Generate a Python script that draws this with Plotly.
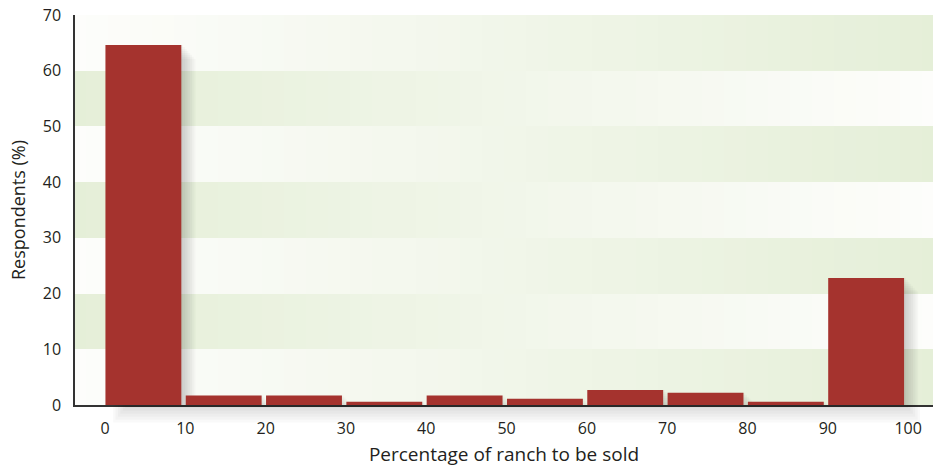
import plotly.graph_objects as go
import numpy as np

# Data
bin_starts = [0, 10, 20, 30, 40, 50, 60, 70, 80, 90]
respondents = [64.6, 1.7, 1.7, 0.6, 1.7, 1.1, 2.7, 2.2, 0.6, 22.8]
x_ticks = [0, 10, 20, 30, 40, 50, 60, 70, 80, 90, 100]
y_ticks = [0, 10, 20, 30, 40, 50, 60, 70]

X_RANGE = [-3.74, 103.1]
Y_RANGE = [0, 70]
BAR_COLOR = "#a5332e"
FONT = "Open Sans"

fig = go.Figure()

# Background gradient bands (decoration)
ncol = 40
xs = np.linspace(X_RANGE[0], X_RANGE[1], ncol)
band_centers = [5, 15, 25, 35, 45, 55, 65]
z = []
for i, _ in enumerate(band_centers):
    t = np.linspace(0, 1, ncol)
    z.append(list(t if i % 2 == 0 else 1 - t))
fig.add_trace(go.Heatmap(
    x=xs, y=band_centers, z=z,
    colorscale=[[0, "#fdfdfb"], [1, "#e5efd8"]],
    zmin=0, zmax=1, showscale=False, hoverinfo="skip",
))

# Bar shadows (soft, to the right)
for k in range(8):
    fig.add_trace(go.Bar(
        x=bin_starts, y=[max(v - 0.35 * k, 0) for v in respondents],
        offset=0.05 + 0.22 * (k + 1), width=9.45,
        marker=dict(color="rgba(40,40,40,0.028)", line=dict(width=0)),
        hoverinfo="skip", showlegend=False,
    ))

# Bars
fig.add_trace(go.Bar(
    x=bin_starts, y=respondents, offset=0.05, width=9.45,
    marker=dict(color=BAR_COLOR, line=dict(width=0)),
    showlegend=False,
))

# Soft shadow below x-axis
shapes = []
for k in range(6):
    shapes.append(dict(
        type="rect", xref="x", yref="paper",
        x0=1.0 + 0.3 * k, x1=101.5 - 0.3 * k, y0=-0.0075 * (6 - k), y1=0,
        fillcolor="rgba(0,0,0,0.025)", line=dict(width=0), layer="above",
    ))

fig.update_layout(
    width=938, height=467,
    margin=dict(l=75, r=5, t=15, b=62),
    paper_bgcolor="white", plot_bgcolor="white",
    barmode="overlay",
    font=dict(family=FONT, color="#231f20", size=16),
    shapes=shapes,
    xaxis=dict(
        range=X_RANGE, tickvals=x_ticks, ticktext=[str(v) for v in x_ticks],
        showgrid=False, zeroline=False, showline=True, linecolor="#333333", linewidth=1.5,
        ticks="", ticklabelstandoff=8, tickfont=dict(size=16), automargin=False,
        title=dict(text="Percentage of ranch to be sold", font=dict(size=19), standoff=12),
    ),
    yaxis=dict(
        range=Y_RANGE, tickvals=y_ticks, ticktext=[str(v) for v in y_ticks],
        showgrid=False, zeroline=False, showline=True, linecolor="#333333", linewidth=1.5,
        ticks="", ticklabelstandoff=9, tickfont=dict(size=16), automargin=False,
        title=dict(text="Respondents (%)", font=dict(size=18), standoff=12),
    ),
)

fig.write_html("out.html", config={"displayModeBar": False},
               post_script="document.body.style.margin='0';")
